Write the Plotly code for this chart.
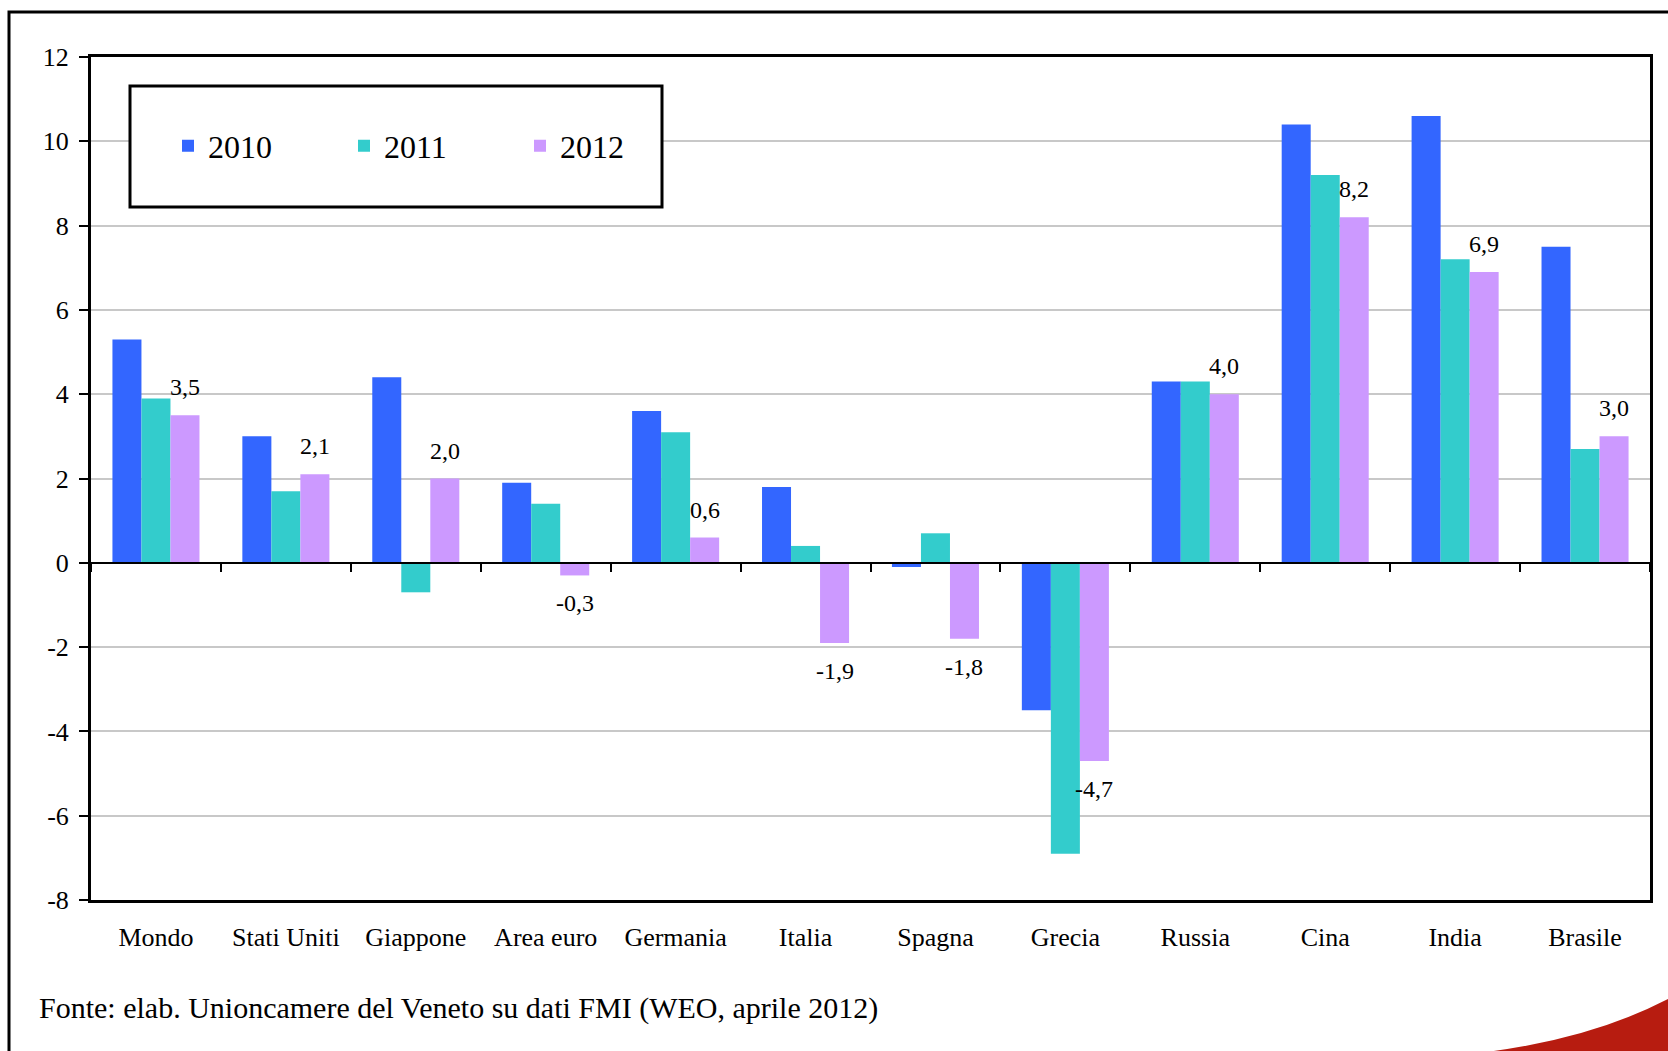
import plotly.graph_objects as go

categories = ["Mondo", "Stati Uniti", "Giappone", "Area euro", "Germania", "Italia",
              "Spagna", "Grecia", "Russia", "Cina", "India", "Brasile"]
years = ["2010", "2011", "2012"]
v2010 = [5.3, 3.0, 4.4, 1.9, 3.6, 1.8, -0.1, -3.5, 4.3, 10.4, 10.6, 7.5]
v2011 = [3.9, 1.7, -0.7, 1.4, 3.1, 0.4, 0.7, -6.9, 4.3, 9.2, 7.2, 2.7]
v2012 = [3.5, 2.1, 2.0, -0.3, 0.6, -1.9, -1.8, -4.7, 4.0, 8.2, 6.9, 3.0]
colors = ["#3366FF", "#33CCCC", "#CC99FF"]
ytick_vals = [-8, -6, -4, -2, 0, 2, 4, 6, 8, 10, 12]
ytick_text = ["-8", "-6", "-4", "-2", "0", "2", "4", "6", "8", "10", "12"]
source_text = "Fonte: elab. Unioncamere del Veneto su dati FMI (WEO, aprile 2012)"

W, H = 1668, 1051
ML, MR, MT, MB = 91, 18, 57, 151
PW, PH = W - ML - MR, H - MT - MB
FONT = "Liberation Serif"
BARGAP = 0.33


def px(x):
    return (x - ML) / PW


def py(y):
    return (H - MB - y) / PH


fig = go.Figure()
for name, vals, col in zip(years, [v2010, v2011, v2012], colors):
    fig.add_trace(go.Bar(x=categories, y=vals, name=name, marker_color=col,
                         marker_line_width=0))

# helper trace for the category axis drawn through y = 0
fig.add_trace(go.Scatter(x=categories, y=[0] * len(categories), xaxis="x2",
                         mode="markers", marker=dict(opacity=0), showlegend=False,
                         hoverinfo="skip"))

# data labels on the 2012 series
bar_w = PW / len(categories) * (1 - BARGAP) / 3
annotations = []
for c, v in zip(categories, v2012):
    annotations.append(dict(x=c, y=v, xref="x", yref="y",
                            text=f"{v:.1f}".replace(".", ","), showarrow=False,
                            xshift=bar_w, yshift=28 if v >= 0 else -28,
                            font=dict(family=FONT, size=24, color="black")))
annotations.append(dict(x=px(37), y=py(1008), xref="paper", yref="paper",
                        xanchor="left", yanchor="middle", text=source_text,
                        showarrow=False, font=dict(family=FONT, size=30, color="black")))

shapes = [
    # outer frame
    dict(type="rect", xref="paper", yref="paper", x0=px(9), x1=px(1690),
         y0=py(1080), y1=py(12), line=dict(color="black", width=3), layer="below"),
    # legend box
    dict(type="rect", xref="paper", yref="paper", x0=px(130), x1=px(662),
         y0=py(207), y1=py(86), line=dict(color="black", width=3),
         fillcolor="white", layer="above"),
    # red decorative swoosh
    dict(type="path", xref="paper", yref="paper",
         path=(f"M {px(1478)} {py(1053)} Q {px(1590)} {py(1040)} {px(1670)} {py(998)} "
               f"L {px(1670)} {py(1053)} Z"),
         fillcolor="#B71C10", line=dict(width=0), layer="above"),
]

fig.update_layout(
    width=W, height=H,
    margin=dict(l=ML, r=MR, t=MT, b=MB, pad=0),
    paper_bgcolor="white", plot_bgcolor="white",
    barmode="group", bargap=BARGAP, bargroupgap=0,
    font=dict(family=FONT, size=26, color="black"),
    showlegend=True,
    legend=dict(orientation="h", x=px(168), y=py(146), xanchor="left", yanchor="middle",
                bgcolor="rgba(0,0,0,0)", borderwidth=0, font=dict(family=FONT, size=32),
                entrywidth=131, entrywidthmode="pixels", traceorder="normal"),
    xaxis=dict(type="category", range=[-0.5, len(categories) - 0.5], showgrid=False,
               showline=True, linecolor="black", linewidth=3, mirror=True,
               ticks="", ticklabelstandoff=12, zeroline=False,
               tickfont=dict(family=FONT, size=26)),
    xaxis2=dict(type="category", overlaying="x", anchor="free", position=py(562.8),
                range=[-0.5, len(categories) - 0.5], showgrid=False, showline=True,
                linecolor="black", linewidth=2, ticks="outside", tickson="boundaries",
                ticklen=8, tickwidth=1.5, tickcolor="black", showticklabels=False,
                zeroline=False),
    yaxis=dict(range=[-8, 12], tickvals=ytick_vals, ticktext=ytick_text,
               showgrid=True, gridcolor="#C8C8C8", gridwidth=2, zeroline=False,
               showline=True, linecolor="black", linewidth=3, mirror=True,
               ticks="outside", ticklen=9, tickcolor="black", tickwidth=1.5,
               ticklabelstandoff=5, tickfont=dict(family=FONT, size=26)),
    annotations=annotations,
    shapes=shapes,
)

fig.write_html("out.html", config={"displayModeBar": False},
               post_script="document.body.style.margin='0';")
